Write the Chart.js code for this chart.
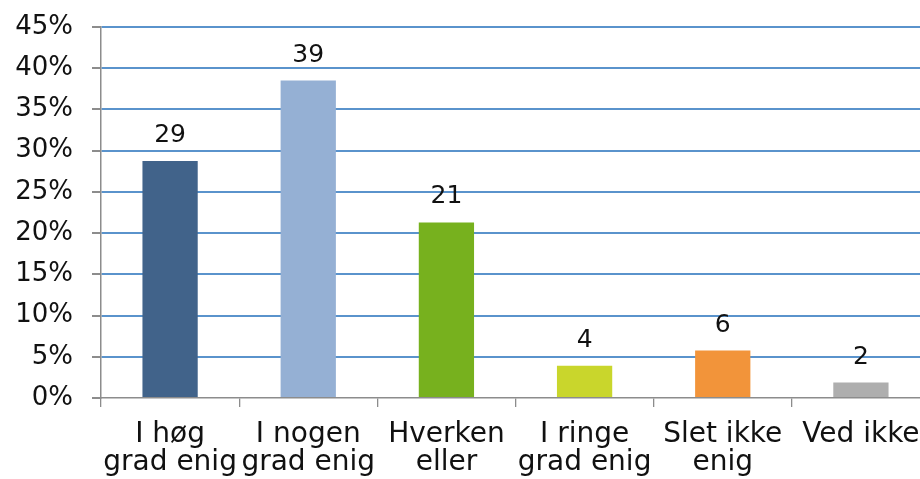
<!DOCTYPE html>
<html>
<head>
<meta charset="utf-8">
<script src="https://cdn.jsdelivr.net/npm/chart.js@4"></script>
<style>
html,body{margin:0;padding:0;background:#fff;overflow:hidden;}
#wrap{position:absolute;left:0;top:0;width:930px;height:479px;}
</style>
</head>
<body>
<div id="wrap"><canvas id="c"></canvas></div>
<script>
const categories = [["I høg","grad enig"],["I nogen","grad enig"],["Hverken","eller"],["I ringe","grad enig"],["Slet ikke","enig"],["Ved ikke"]];
const values = [28.75, 38.5, 21.3, 3.9, 5.75, 1.87];
const valueLabels = ["29","39","21","4","6","2"];
const barColors = ["#41638A","#95B0D4","#77B11E","#C9D62C","#F2943A","#AEAEAE"];
const yTicks = [0,5,10,15,20,25,30,35,40,45];

const FONT = "'DejaVu Sans', Verdana, sans-serif";

const valueLabelPlugin = {
  id: 'valueLabels',
  afterDatasetsDraw(chart) {
    const ctx = chart.ctx;
    const meta = chart.getDatasetMeta(0);
    ctx.save();
    ctx.font = "25px " + FONT;
    ctx.fillStyle = "#111";
    ctx.textAlign = "center";
    ctx.textBaseline = "alphabetic";
    meta.data.forEach((bar, i) => {
      ctx.fillText(valueLabels[i], bar.x, bar.y - 19);
    });
    ctx.restore();
  }
};

new Chart(document.getElementById('c'), {
  type: 'bar',
  data: {
    labels: categories,
    datasets: [{
      data: values,
      backgroundColor: barColors,
      borderWidth: 0,
      categoryPercentage: 0.4,
      barPercentage: 1.0
    }]
  },
  options: {
    responsive: true,
    maintainAspectRatio: false,
    animation: false,
    devicePixelRatio: 1,
    layout: { padding: { top: 27, right: 0, bottom: 0, left: 0 } },
    plugins: { legend: { display: false }, tooltip: { enabled: false } },
    scales: {
      x: {
        offset: true,
        grid: {
          offset: true,
          drawOnChartArea: false,
          drawTicks: true,
          tickLength: 9,
          tickColor: '#8c8c8c',
          lineWidth: 1.3
        },
        border: { display: true, color: '#8c8c8c', width: 1.5 },
        ticks: {
          color: '#111',
          font: { family: FONT, size: 28, lineHeight: 1.0 },
          padding: 14,
          maxRotation: 0,
          autoSkip: false
        },
        afterFit(scale) { scale.height = 81; scale.paddingLeft = 0; scale.paddingRight = 0; }
      },
      y: {
        min: 0,
        max: 45,
        afterBuildTicks(scale) { scale.ticks = yTicks.map(v => ({ value: v })); },
        grid: {
          color: ctx => ctx.tick && ctx.tick.value === 0 ? 'rgba(0,0,0,0)' : '#5a93cc',
          lineWidth: 2,
          tickLength: 9,
          tickColor: '#8c8c8c'
        },
        border: { display: true, color: '#8c8c8c', width: 1.5 },
        ticks: {
          color: '#111',
          font: { family: FONT, size: 26 },
          padding: 19,
          callback: v => v + '%'
        },
        afterFit(scale) { scale.width = 101; scale.paddingTop = 0; scale.paddingBottom = 0; }
      }
    }
  },
  plugins: [valueLabelPlugin]
});
</script>
</body>
</html>
